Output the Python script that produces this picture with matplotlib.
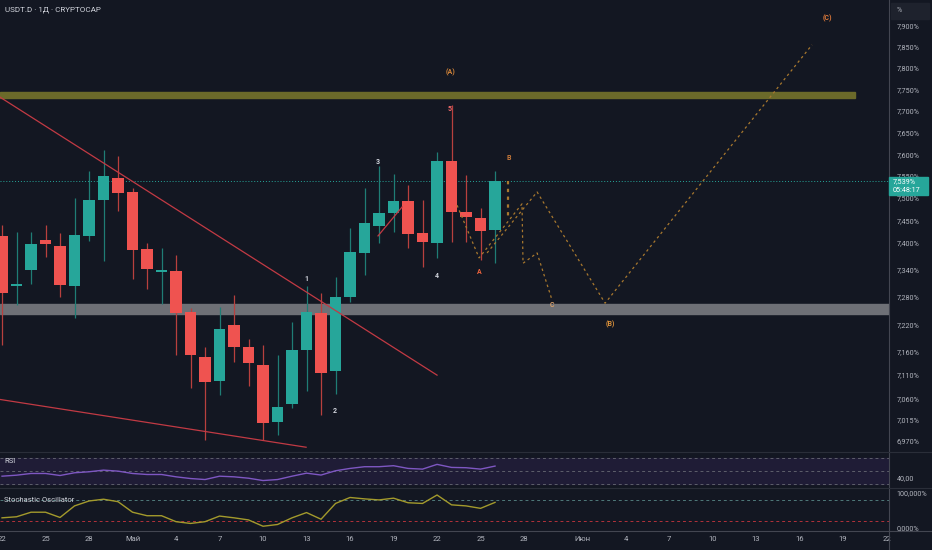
import numpy as np
import matplotlib.pyplot as plt
from matplotlib.patches import Rectangle

plt.rcParams['font.family'] = ['Roboto', 'DejaVu Sans']

# daily candles, day 0 = 22 April
opens = [7.415, 7.304, 7.339, 7.406, 7.392, 7.304, 7.415, 7.496, 7.546, 7.514,
         7.386, 7.335, 7.337, 7.246, 7.149, 7.097, 7.218, 7.170, 7.131, 7.010,
         7.048, 7.164, 7.244, 7.119, 7.279, 7.377, 7.437, 7.466, 7.493, 7.421,
         7.399, 7.584, 7.469, 7.455, 7.428]
highs = [7.439, 7.424, 7.424, 7.439, 7.421, 7.500, 7.562, 7.610, 7.596, 7.523,
         7.399, 7.388, 7.372, 7.255, 7.170, 7.257, 7.284, 7.188, 7.175, 7.153,
         7.225, 7.304, 7.288, 7.323, 7.433, 7.523, 7.573, 7.555, 7.530, 7.496,
         7.605, 7.714, 7.553, 7.478, 7.562]
lows = [7.175, 7.262, 7.308, 7.368, 7.279, 7.233, 7.403, 7.359, 7.471, 7.319,
        7.297, 7.264, 7.153, 7.082, 6.972, 7.067, 7.138, 7.086, 6.972, 6.982,
        7.039, 7.076, 7.025, 7.069, 7.268, 7.328, 7.399, 7.424, 7.388, 7.346,
        7.366, 7.401, 7.401, 7.361, 7.354]
closes = [7.288, 7.308, 7.397, 7.397, 7.306, 7.417, 7.496, 7.550, 7.511, 7.383,
          7.341, 7.339, 7.244, 7.153, 7.095, 7.209, 7.170, 7.136, 7.008, 7.042,
          7.164, 7.246, 7.114, 7.279, 7.379, 7.444, 7.466, 7.493, 7.419, 7.401,
          7.584, 7.469, 7.457, 7.426, 7.539]
rsi = [41.7, 43.3, 46.0, 46.0, 42.8, 47.1, 48.7, 51.3, 49.7, 46.0,
       44.4, 44.4, 40.7, 38.0, 36.4, 41.7, 40.7, 38.5, 34.8, 36.4,
       41.7, 46.5, 43.5, 50.3, 54.0, 56.7, 56.7, 58.3, 54.0, 52.9,
       60.4, 55.6, 55.1, 52.9, 57.7]
stoch = [29, 32, 45, 45, 30, 63, 77, 82, 75, 45,
         35, 35, 18, 13, 18, 34, 29, 23, 5, 10,
         29, 44, 25, 70, 87, 83, 80, 85, 72, 70,
         94, 66, 63, 56, 73]
last_price = 7.539

tick_days = [0, 3, 6, 9, 12, 15, 18, 21, 24, 27, 30, 33, 36, 40, 43, 46, 49, 52, 55, 58, 61]
tick_labels = ['22', '25', '28', 'Май', '4', '7', '10', '13', '16', '19', '22', '25', '28',
               'Июн', '4', '7', '10', '13', '16', '19', '22']
price_ticks = [7.9, 7.85, 7.8, 7.75, 7.7, 7.65, 7.6, 7.55, 7.5, 7.45, 7.4,
               7.34, 7.28, 7.22, 7.16, 7.11, 7.06, 7.015, 6.97]

# zones and drawings (day, price)
olive_zone = (7.730, 7.744, 58.83)
gray_zone = (7.242, 7.264)
red_lines = [([-0.14, 30.0], [7.732, 7.110]),
             ([-0.14, 20.97], [7.058, 6.957]),
             ([25.93, 27.59], [7.415, 7.480])]
wave_x1 = [31.38, 32.9, 35.86, 35.93, 36.9, 37.93]
wave_y1 = [7.484, 7.366, 7.487, 7.354, 7.377, 7.273]
wave_x2 = [33.45, 36.9, 41.59, 55.86]
wave_y2 = [7.377, 7.514, 7.266, 7.855]
wave_x3 = [34.9, 34.9]
wave_y3 = [7.539, 7.455]
wave_labels = [('1', 20.97, 7.319, '#d1d4dc'), ('2', 22.97, 7.033, '#d1d4dc'),
               ('3', 25.93, 7.582, '#d1d4dc'), ('4', 30.0, 7.326, '#d1d4dc'),
               ('5', 30.9, 7.704, '#f06a6a'), ('(A)', 30.9, 7.789, '#d9883a'),
               ('A', 32.9, 7.335, '#f0643c'), ('B', 34.97, 7.591, '#c97a3a'),
               ('C', 37.93, 7.262, '#d9a06a'), ('(B)', 41.93, 7.220, '#d9903a'),
               ('(C)', 56.9, 7.919, '#e07a3a')]

BG = '#131722'
UP, DOWN = '#26a69a', '#ef5350'
TXT = '#b2b5be'
W, H = 932, 550


def frame(x0, y0, x1, y1):
    return [x0 / W, 1 - y1 / H, (x1 - x0) / W, (y1 - y0) / H]


fig = plt.figure(figsize=(9.32, 5.5), dpi=100, facecolor=BG)
ax = fig.add_axes(frame(0, 0, 889, 452))
ax_rsi = fig.add_axes(frame(0, 452, 889, 488))
ax_st = fig.add_axes(frame(0, 488, 889, 530))
for a in (ax, ax_rsi, ax_st):
    a.set_facecolor(BG)
    a.set_xlim(-0.14, 61.17)
    for s in a.spines.values():
        s.set_visible(False)
    a.yaxis.tick_right()
    a.tick_params(axis='y', length=0, pad=5.5, labelsize=5.2, labelcolor=TXT)
    a.tick_params(axis='x', length=0)
    a.set_xticks([])

# main price pane
ax.set_yscale('log')
ax.set_ylim(6.947, 7.962)
ax.set_yticks(price_ticks)
ax.set_yticklabels([f'{v:.3f}%'.replace('.', ',') for v in price_ticks])
ax.minorticks_off()

ax.axhspan(gray_zone[0], gray_zone[1], color='#6e7076', zorder=1)
ax.add_patch(Rectangle((-0.14, olive_zone[0]), olive_zone[2] + 0.14,
                       olive_zone[1] - olive_zone[0], color='#6b6a2a', zorder=1))
ax.axhline(last_price, color=UP, ls=(0, (1, 2)), lw=0.7, zorder=1)

days = np.arange(len(opens))
o, h, l, c = map(np.array, (opens, highs, lows, closes))
cols = np.where(c >= o, UP, DOWN)
wick_cols = np.where(c >= o, '#1f7d75', '#b8403e')
ax.vlines(days, l, h, colors=wick_cols, lw=0.9, zorder=2)
ax.bar(days, np.maximum(np.abs(c - o), 0.004), bottom=np.minimum(o, c), width=0.8,
       color=cols, zorder=3)

for xs, ys in red_lines:
    ax.plot(xs, ys, color='#c23a44', lw=0.9, zorder=4)
wave_style = dict(color='#a8782e', lw=0.9, ls=(0, (2, 2.5)), zorder=4)
ax.plot(wave_x1, wave_y1, **wave_style)
ax.plot(wave_x2, wave_y2, **wave_style)
ax.plot(wave_x3, wave_y3, color='#a8782e', lw=1.6, ls=(0, (1.5, 2)), zorder=4)
for txt, x, y, col in wave_labels:
    ax.text(x, y, txt, color=col, fontsize=5, fontweight='bold', ha='center', va='center',
            zorder=5)

# RSI pane
ax_rsi.set_ylim(23, 80)
ax_rsi.axhspan(30, 70, color='#1f1c36', zorder=0)
for lv in (70, 50, 30):
    ax_rsi.axhline(lv, color='#5d5f6b', lw=0.7, ls=(0, (3, 3)))
ax_rsi.plot(days, rsi, color='#7e57c2', lw=1)
ax_rsi.set_yticks([40])
ax_rsi.set_yticklabels(['40,00'])
ax_rsi.text(0.005, 0.7, 'RSI', transform=ax_rsi.transAxes, color='#d1d4dc', fontsize=5.5)

# Stochastic pane
ax_st.set_ylim(-5.7, 114)
ax_st.axhline(80, color='#4f7a7a', lw=0.7, ls=(0, (3, 3)))
ax_st.axhline(20, color='#b2313a', lw=0.7, ls=(0, (3, 3)))
ax_st.plot(days, stoch, color='#a39a2c', lw=1)
ax_st.set_yticks([100, 0])
ax_st.set_yticklabels(['100,000%', '0,000%'])
ax_st.text(0.005, 0.72, 'Stochastic Oscillator', transform=ax_st.transAxes,
           color='#d1d4dc', fontsize=5.5, va='center')
ax_st.set_xticks(tick_days)
ax_st.set_xticklabels(tick_labels)
ax_st.tick_params(axis='x', length=0, pad=4, labelsize=5.5, labelcolor=TXT)

# pane separators and axis lines
fig.add_artist(plt.Line2D([889 / W, 889 / W], [0, 1], color='#434651', lw=0.8))
for yy, cc in ((452, '#2a2e39'), (488, '#2a2e39'), (531, '#434651')):
    fig.add_artist(plt.Line2D([0, 1], [1 - yy / H, 1 - yy / H], color=cc, lw=0.8))

# price tag and header
fig.patches.append(Rectangle((889 / W, 1 - 195 / H), 39 / W, 18 / H, color=UP,
                             transform=fig.transFigure, figure=fig, zorder=5))
fig.text(893 / W, 1 - 181.5 / H, f'{last_price:.3f}%'.replace('.', ','), color='white',
         fontsize=5.2, va='center', zorder=6)
fig.text(893 / W, 1 - 190.5 / H, '05:48:17', color='white', fontsize=5.2, va='center',
         zorder=6)
fig.patches.append(Rectangle((891 / W, 1 - 19 / H), 38 / W, 16 / H, color='#1e222d',
                             transform=fig.transFigure, figure=fig, zorder=5))
fig.text(897 / W, 1 - 11 / H, '%', color=TXT, fontsize=5, va='center', zorder=6)
fig.text(5 / W, 1 - 10 / H, 'USDT.D · 1Д · CRYPTOCAP', color='#d1d4dc', fontsize=5.8,
         va='center')

fig.savefig('out.png', dpi=100, facecolor=BG)
